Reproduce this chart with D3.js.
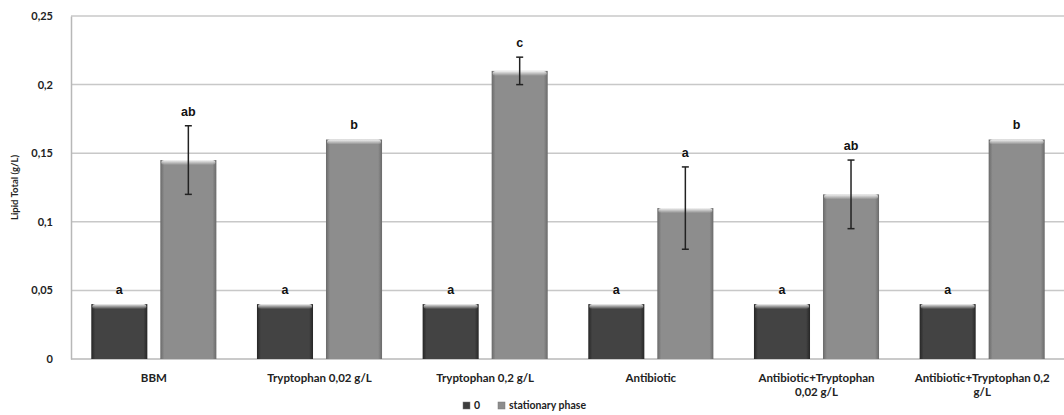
<!DOCTYPE html>
<html>
<head>
<meta charset="utf-8">
<script src="https://cdn.jsdelivr.net/npm/d3@7"></script>
<style>
  body { margin: 0; background: #fff; }
  svg { display: block; font-family: Lato, "Open Sans", sans-serif; font-weight: bold; }
</style>
</head>
<body>
<div id="chart"></div>
<script>
// data
var categories = ["BBM", "Tryptophan 0,02 g/L", "Tryptophan 0,2 g/L", "Antibiotic",
                  "Antibiotic+Tryptophan 0,02 g/L", "Antibiotic+Tryptophan 0,2 g/L"];
var catLines = [["BBM"], ["Tryptophan 0,02 g/L"], ["Tryptophan 0,2 g/L"], ["Antibiotic"],
                ["Antibiotic+Tryptophan", "0,02 g/L"], ["Antibiotic+Tryptophan 0,2", "g/L"]];
var seriesNames = ["0", "stationary phase"];
var zeroVals = [0.04, 0.04, 0.04, 0.04, 0.04, 0.04];
var statVals = [0.145, 0.16, 0.21, 0.11, 0.12, 0.16];
var zeroErr = [0, 0, 0, 0, 0, 0];
var statErr = [0.025, 0, 0.01, 0.03, 0.025, 0];
var zeroLetters = ["a", "a", "a", "a", "a", "a"];
var statLetters = ["ab", "b", "c", "a", "ab", "b"];
var yTicks = [0, 0.05, 0.1, 0.15, 0.2, 0.25];

var width = 1064, height = 415;
var margin = {left: 71, right: 0, top: 16, bottom: 56};
var plotW = width - margin.left - margin.right + 1,
    plotH = height - margin.top - margin.bottom;

var svg = d3.select("#chart").append("svg")
    .attr("width", width)
    .attr("height", height);

// gradients for the bevelled excel look
var defs = svg.append("defs");
function sideGrad(id, edge, mid) {
    var g = defs.append("linearGradient").attr("id", id)
        .attr("x1", "0%").attr("x2", "100%").attr("y1", "0%").attr("y2", "0%");
    g.append("stop").attr("offset", "0%").attr("stop-color", edge);
    g.append("stop").attr("offset", "7%").attr("stop-color", mid);
    g.append("stop").attr("offset", "93%").attr("stop-color", mid);
    g.append("stop").attr("offset", "100%").attr("stop-color", edge);
}
sideGrad("gDark", "#262626", "#434343");
sideGrad("gLight", "#6a6a6a", "#8d8d8d");
var hl = defs.append("linearGradient").attr("id", "gTop")
    .attr("x1", "0%").attr("x2", "0%").attr("y1", "0%").attr("y2", "100%");
hl.append("stop").attr("offset", "0%").attr("stop-color", "#fff").attr("stop-opacity", 0.9);
hl.append("stop").attr("offset", "100%").attr("stop-color", "#fff").attr("stop-opacity", 0);

var g = svg.append("g").attr("transform", "translate(" + margin.left + "," + margin.top + ")");

var x0 = d3.scaleBand().domain(categories).range([0, plotW])
    .paddingInner(0.245).paddingOuter(0.1225);
var x1 = d3.scaleBand().domain(seriesNames).range([0, x0.bandwidth()]).paddingInner(0.188);
var y = d3.scaleLinear().domain([0, 0.25]).range([plotH, 0]);

var fmt = function(d) { return d3.format("~g")(d).replace(".", ","); };

// gridlines
g.append("g").selectAll("line").data(yTicks.slice(1)).enter().append("line")
    .attr("x1", 0).attr("x2", plotW)
    .attr("y1", function(d) { return y(d); }).attr("y2", function(d) { return y(d); })
    .attr("stroke", "#c8c8c8").attr("stroke-width", 1.5);

// y axis
var yAxis = g.append("g").call(d3.axisLeft(y).tickValues(yTicks).tickFormat(fmt).tickSize(0).tickPadding(18));
yAxis.select(".domain").attr("stroke", "#b8b8b8").attr("stroke-width", 1.5);
yAxis.selectAll("text").attr("font-size", 11).attr("fill", "#222").attr("font-family", "Lato, sans-serif");

// x baseline
g.append("line").attr("x1", 0).attr("x2", plotW).attr("y1", y(0)).attr("y2", y(0))
    .attr("stroke", "#b8b8b8").attr("stroke-width", 1.5);

// y title
svg.append("text")
    .attr("transform", "translate(18," + (margin.top + plotH * 0.5) + ") rotate(-90)")
    .attr("text-anchor", "middle")
    .attr("font-size", 9.5)
    .attr("fill", "#222")
    .text("Lipid Total (g/L)");

// bars
var rows = categories.map(function(c, i) {
    return [
        {cat: c, s: seriesNames[0], v: zeroVals[i], e: zeroErr[i], lab: zeroLetters[i], fill: "url(#gDark)"},
        {cat: c, s: seriesNames[1], v: statVals[i], e: statErr[i], lab: statLetters[i], fill: "url(#gLight)"}
    ];
});

var groups = g.selectAll(".grp").data(rows).enter().append("g")
    .attr("class", "grp")
    .attr("transform", function(d) { return "translate(" + x0(d[0].cat) + ",0)"; });

var bars = groups.selectAll(".bar").data(function(d) { return d; }).enter().append("g").attr("class", "bar");

bars.append("rect")
    .attr("x", function(d) { return x1(d.s); })
    .attr("y", function(d) { return y(d.v); })
    .attr("width", x1.bandwidth())
    .attr("height", function(d) { return y(0) - y(d.v); })
    .attr("fill", function(d) { return d.fill; });

bars.append("rect")
    .attr("x", function(d) { return x1(d.s) + 1; })
    .attr("y", function(d) { return y(d.v); })
    .attr("width", x1.bandwidth() - 2)
    .attr("height", 5)
    .attr("rx", 3)
    .attr("fill", "url(#gTop)");

// error bars
var eb = bars.filter(function(d) { return d.e > 0; });
eb.append("line")
    .attr("x1", function(d) { return x1(d.s) + x1.bandwidth() / 2; })
    .attr("x2", function(d) { return x1(d.s) + x1.bandwidth() / 2; })
    .attr("y1", function(d) { return y(d.v + d.e); })
    .attr("y2", function(d) { return y(d.v - d.e); })
    .attr("stroke", "#222").attr("stroke-width", 1.5);
[1, -1].forEach(function(sgn) {
    eb.append("line")
        .attr("x1", function(d) { return x1(d.s) + x1.bandwidth() / 2 - 3.5; })
        .attr("x2", function(d) { return x1(d.s) + x1.bandwidth() / 2 + 3.5; })
        .attr("y1", function(d) { return y(d.v + sgn * d.e); })
        .attr("y2", function(d) { return y(d.v + sgn * d.e); })
        .attr("stroke", "#222").attr("stroke-width", 1.5);
});

// letters
bars.append("text")
    .attr("x", function(d) { return x1(d.s) + x1.bandwidth() / 2; })
    .attr("y", function(d) { return y(d.v + d.e) - 10; })
    .attr("text-anchor", "middle")
    .attr("font-family", "Arial, 'Liberation Sans', sans-serif")
    .attr("font-size", 12.5)
    .attr("fill", "#111")
    .text(function(d) { return d.lab; });

// category labels
var xl = g.selectAll(".xl").data(catLines).enter().append("text")
    .attr("class", "xl")
    .attr("text-anchor", "middle")
    .attr("font-size", 11.5)
    .attr("fill", "#222")
    .attr("transform", function(d, i) { return "translate(" + (x0(categories[i]) + x0.bandwidth() / 2) + "," + (y(0) + 23) + ")"; });
xl.selectAll("tspan").data(function(d) { return d; }).enter().append("tspan")
    .attr("x", 0)
    .attr("dy", function(d, i) { return i === 0 ? 0 : 14; })
    .text(function(d) { return d; });

// legend
var legend = svg.append("g").attr("transform", "translate(463,409)");
var legX = [0, 35];
var legFill = ["#3d3d3d", "#8d8d8d"];
seriesNames.forEach(function(s, i) {
    var it = legend.append("g").attr("transform", "translate(" + legX[i] + ",0)");
    it.append("rect").attr("x", 0).attr("y", -7).attr("width", 7).attr("height", 7)
        .attr("fill", legFill[i]).attr("stroke", "#777").attr("stroke-width", 0.5);
    it.append("text").attr("x", 11).attr("y", 0).attr("font-size", 10.5).attr("fill", "#222").text(s);
});
</script>
</body>
</html>
